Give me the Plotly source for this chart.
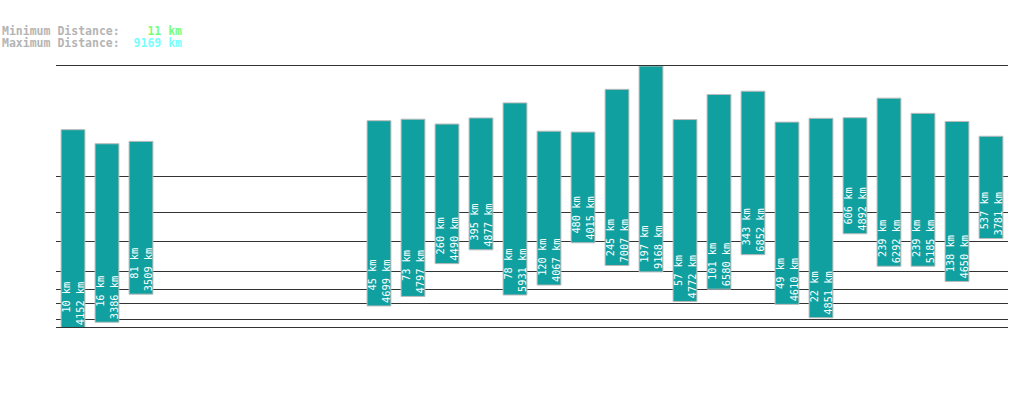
import plotly.graph_objects as go

# ---- data ----
slots = [str(i) for i in range(1, 29)]
min_km = [10, 16, 81, None, None, None, None, None, None,
          45, 73, 260, 395, 78, 120, 480, 245, 197, 57, 101, 343, 49, 22, 606, 239, 239, 138, 537]
max_km = [4152, 3386, 3509, None, None, None, None, None, None,
          4699, 4797, 4490, 4877, 5931, 4067, 4015, 7007, 9168, 4772, 6580, 6852, 4610, 4851, 4892, 6292, 5185, 4650, 3781]
overall_min = 11
overall_max = 9169
grid_km = [20, 50, 100, 200, 500, 1000, 2000]

P = 0.3
def t(v):
    return v ** P

base, length, texts = [], [], []
for lo, hi in zip(min_km, max_km):
    if lo is None or hi is None:
        base.append(None); length.append(None); texts.append("")
        continue
    base.append(t(lo))
    length.append(t(hi) - t(lo))
    a = f"{lo} km"
    b = f"{hi} km"
    n = max(len(a), len(b))
    a = "\u00a0" * (n - len(a)) + a
    b = "\u00a0" * (n - len(b)) + b
    texts.append(a + "<br>" + b)

fig = go.Figure()
fig.add_trace(go.Bar(
    x=slots, y=length, base=base, text=texts,
    textposition="inside", insidetextanchor="start", textangle=-90,
    textfont=dict(family="DejaVu Sans Mono", size=10.3, color="white"),
    marker=dict(color="#11a0a0", line=dict(color="#bbbbbb", width=1)),
    hoverinfo="skip", showlegend=False,
))

L, R, T, B = 56, 11, 66, 75
W, H = 1019, 402
pw = W - L - R

fig.update_layout(
    width=W, height=H,
    margin=dict(l=L, r=R, t=T, b=B, pad=0),
    paper_bgcolor="white", plot_bgcolor="white",
    bargap=0.3,
    uniformtext=dict(mode="show", minsize=10.3),
    xaxis=dict(type="category", range=[-0.5, 27.5], showticklabels=False,
               showgrid=False, zeroline=False, ticks="",
               showline=True, mirror=True, linecolor="#333333", linewidth=1),
    yaxis=dict(range=[t(overall_min), t(overall_max)], tickvals=[t(v) for v in grid_km],
               showticklabels=False, showgrid=True, gridcolor="#333333", gridwidth=1,
               zeroline=False, ticks="", showline=False),
    font=dict(family="DejaVu Sans Mono"),
)

lab_font = dict(family="DejaVu Sans Mono", size=11.5, weight="bold")
rows = [("Minimum Distance:", f"{overall_min} km", "#77ff77", 31),
        ("Maximum Distance:", f"{overall_max} km", "#77ffff", 43)]
for label, val, col, ypx in rows:
    pad = "\u00a0" * (9 - len(val))
    fig.add_annotation(
        xref="paper", yref="paper",
        x=-L / pw, y=(H - B - ypx) / (H - T - B),
        xanchor="left", yanchor="middle", showarrow=False,
        text=f"<span style='color:#b4b4b4'>{label}</span><span style='color:{col}'>{pad}{val}</span>",
        font=lab_font,
    )

fig.write_html("out.html")
